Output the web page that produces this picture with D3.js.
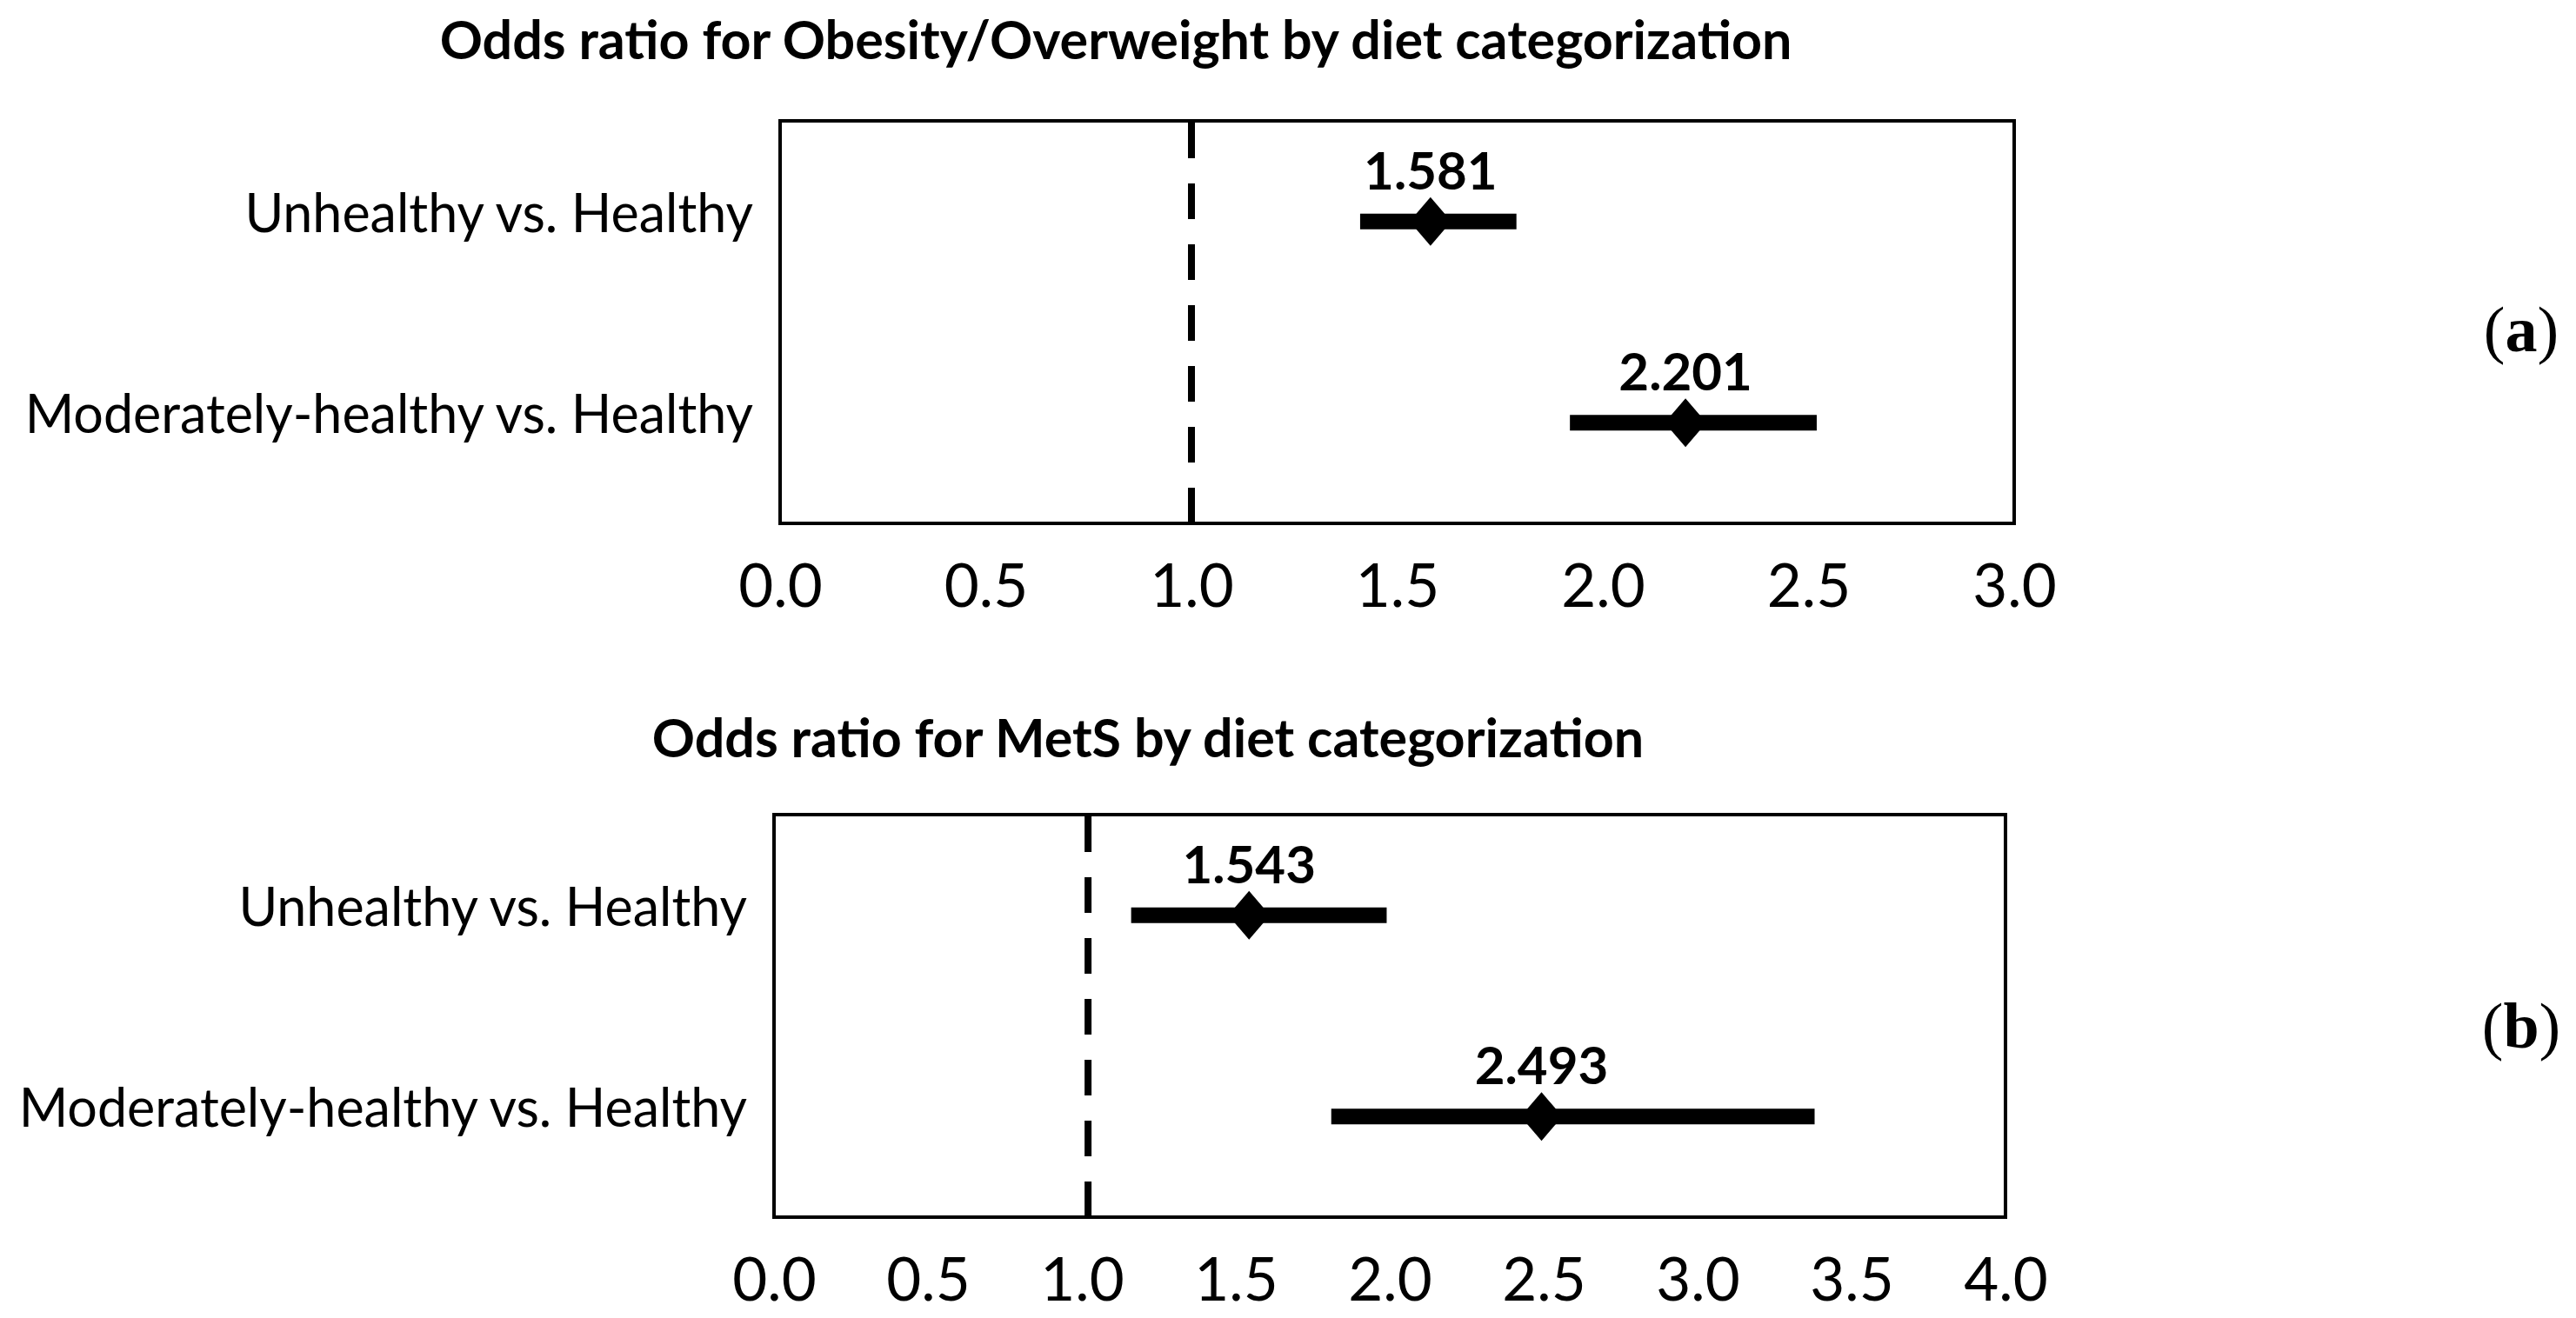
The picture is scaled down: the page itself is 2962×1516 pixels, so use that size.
<!DOCTYPE html>
<html>
<head>
<meta charset="utf-8">
<script src="https://cdn.jsdelivr.net/npm/d3@7"></script>
<style>
body { margin: 0; background: #fff; }
svg { display: block; }
</style>
</head>
<body>
<svg id="chart"></svg>
<script>
// data
const comparisons = ["Unhealthy vs. Healthy", "Moderately-healthy vs. Healthy"];

const obesityOR = [1.581, 2.201];
const obesityLow = [1.41, 1.92];
const obesityHigh = [1.79, 2.52];
const obesityTicks = [0, 0.5, 1, 1.5, 2, 2.5, 3];

const metsOR = [1.543, 2.493];
const metsLow = [1.16, 1.81];
const metsHigh = [1.99, 3.38];
const metsTicks = [0, 0.5, 1, 1.5, 2, 2.5, 3, 3.5, 4];

const W = 2962, H = 1516;
const sans = "Lato, 'Open Sans', sans-serif";

const svg = d3.select("#chart").attr("width", W).attr("height", H);
svg.append("rect").attr("width", W).attr("height", H).attr("fill", "#fff");

const panels = [
    {
        title: "Odds ratio for Obesity/Overweight by diet categorization",
        titleX: 1283, titleY: 68,
        or: obesityOR, low: obesityLow, high: obesityHigh,
        ticks: obesityTicks, domain: [0, 3], ref: 1.0,
        left: 897, right: 2316, top: 139, bottom: 602,
        tag: "a", tagY: 404
    },
    {
        title: "Odds ratio for MetS by diet categorization",
        titleX: 1320, titleY: 871,
        or: metsOR, low: metsLow, high: metsHigh,
        ticks: metsTicks, domain: [0, 4], ref: 1.02,
        left: 890, right: 2306, top: 937, bottom: 1400,
        tag: "b", tagY: 1205
    }
];

function drawPanel(p) {
    const g = svg.append("g");

    const x = d3.scaleLinear().domain(p.domain).range([p.left, p.right]);
    const y = d3.scalePoint().domain(comparisons).range([p.top, p.bottom]).padding(0.5);

    const rows = comparisons.map((c, i) => ({
        label: c, or: p.or[i], low: p.low[i], high: p.high[i]
    }));

    g.append("text")
        .attr("x", p.titleX).attr("y", p.titleY)
        .attr("text-anchor", "middle")
        .attr("font-family", sans).attr("font-weight", "bold")
        .attr("font-size", 61)
        .text(p.title);

    // frame
    g.append("rect")
        .attr("x", p.left).attr("y", p.top)
        .attr("width", p.right - p.left).attr("height", p.bottom - p.top)
        .attr("fill", "none").attr("stroke", "#000").attr("stroke-width", 4);

    // reference line
    g.append("line")
        .attr("x1", x(p.ref)).attr("x2", x(p.ref))
        .attr("y1", p.top + 2).attr("y2", p.bottom)
        .attr("stroke", "#000").attr("stroke-width", 8)
        .attr("stroke-dasharray", "41 29");

    // x axis
    const axis = d3.axisBottom(x).tickValues(p.ticks).tickSize(0).tickPadding(0)
        .tickFormat(d3.format(".1f"));
    const ax = g.append("g").attr("transform", `translate(0,${p.bottom})`).call(axis);
    ax.select(".domain").remove();
    ax.selectAll("text")
        .attr("y", 96).attr("dy", null)
        .attr("font-family", sans).attr("font-size", 69).attr("fill", "#000");

    // row labels
    g.selectAll(".rowlab").data(rows).enter().append("text")
        .attr("x", p.left - 31).attr("y", d => y(d.label) + 12)
        .attr("text-anchor", "end")
        .attr("font-family", sans).attr("font-size", 61)
        .text(d => d.label);

    // CI bars
    g.selectAll(".ci").data(rows).enter().append("line")
        .attr("x1", d => x(d.low)).attr("x2", d => x(d.high))
        .attr("y1", d => y(d.label)).attr("y2", d => y(d.label))
        .attr("stroke", "#000").attr("stroke-width", 18);

    // diamonds
    g.selectAll(".pt").data(rows).enter().append("path")
        .attr("transform", d => `translate(${x(d.or)},${y(d.label)})`)
        .attr("d", "M0,-28L24,0L0,28L-24,0Z")
        .attr("fill", "#000");

    // value labels
    g.selectAll(".val").data(rows).enter().append("text")
        .attr("x", d => x(d.or)).attr("y", d => y(d.label) - 37)
        .attr("text-anchor", "middle")
        .attr("font-family", sans).attr("font-weight", "bold").attr("font-size", 60)
        .text(d => d.or.toFixed(3));

    // panel tag
    const tag = g.append("text")
        .attr("x", 2899).attr("y", p.tagY)
        .attr("text-anchor", "middle")
        .attr("font-family", "'Liberation Serif', 'DejaVu Serif', serif")
        .attr("font-size", 74);
    tag.append("tspan").text("(");
    tag.append("tspan").attr("font-weight", "bold").text(p.tag);
    tag.append("tspan").text(")");
}

panels.forEach(drawPanel);
</script>
</body>
</html>
